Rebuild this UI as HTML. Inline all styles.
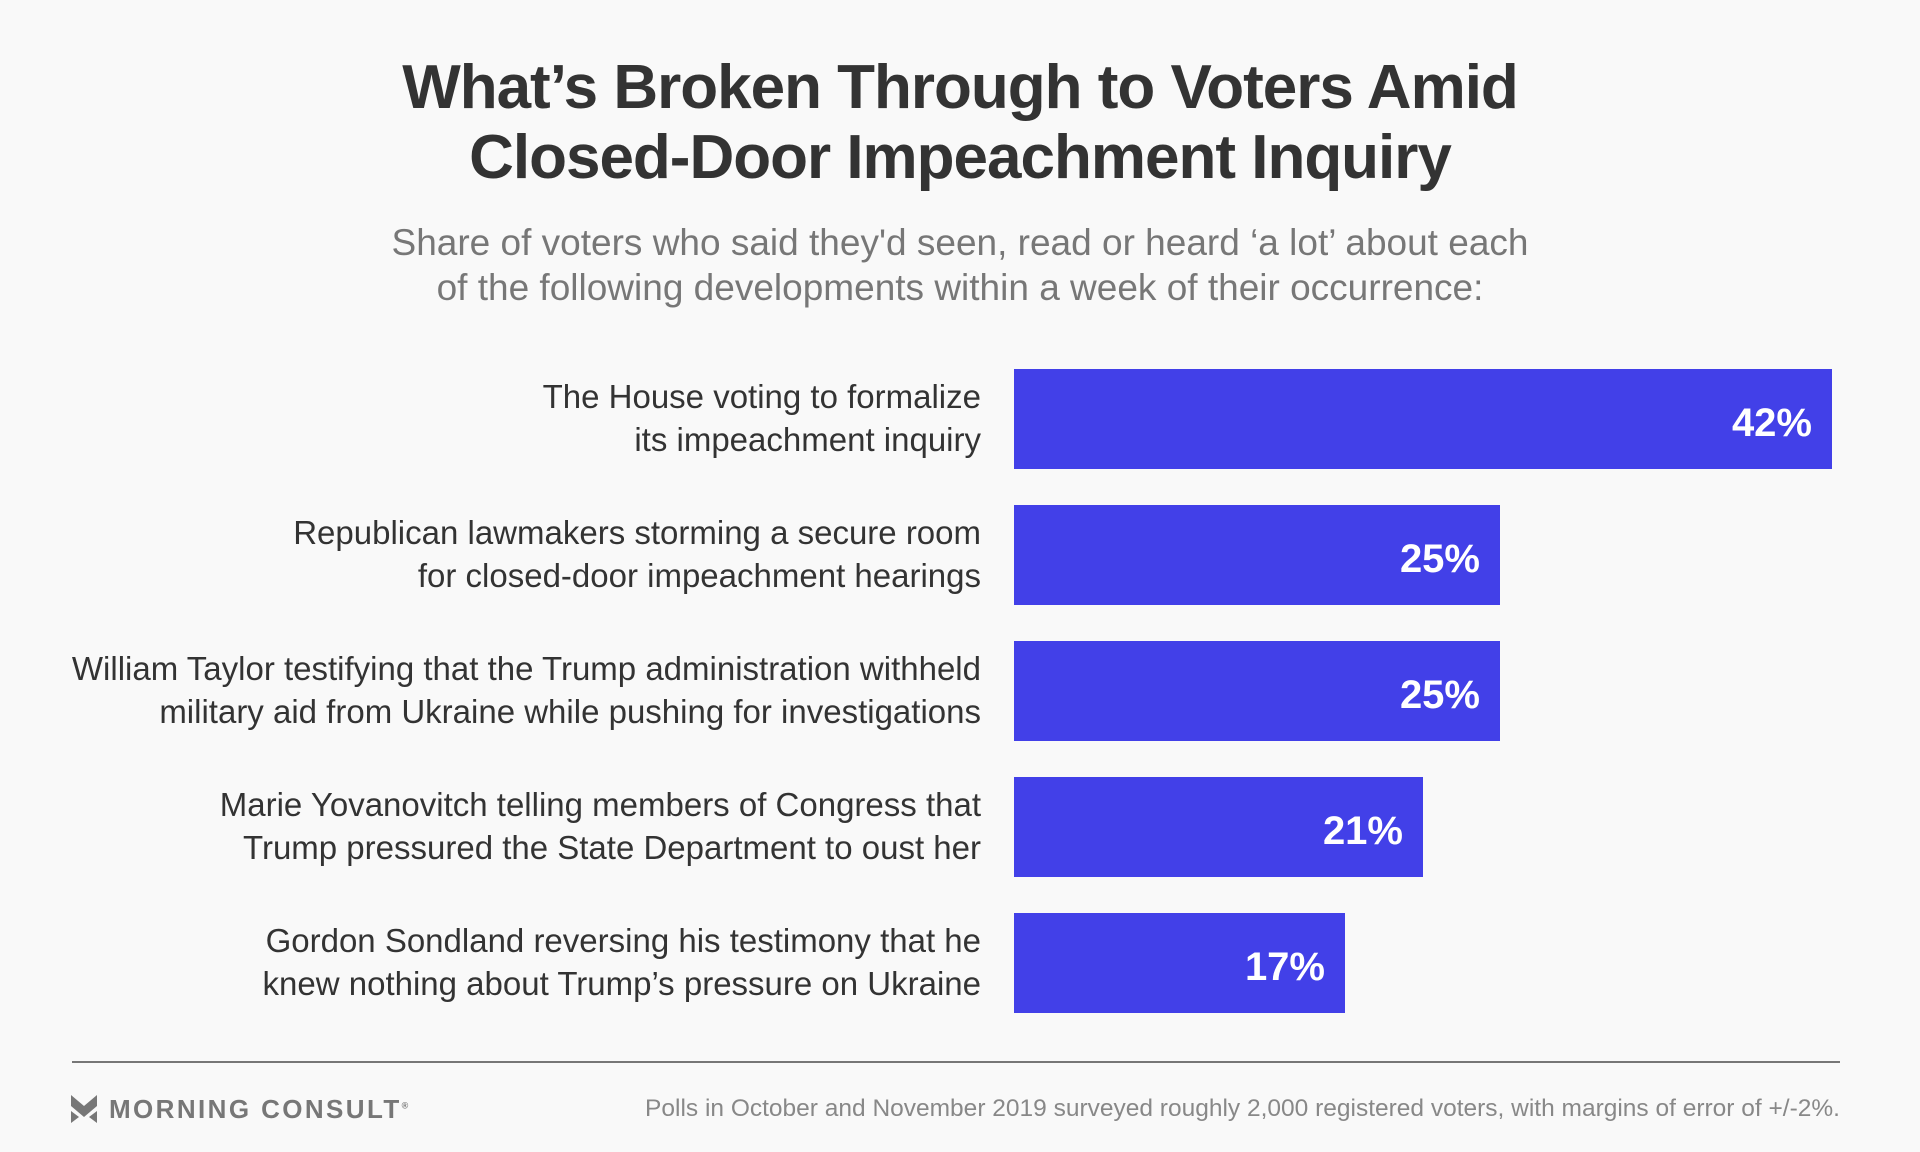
<!DOCTYPE html>
<html><head><meta charset="utf-8"><style>
body{margin:0;width:1920px;height:1152px;background:#f9f9f9;font-family:"Liberation Sans",sans-serif;position:relative;overflow:hidden}
.t{position:absolute;left:0;width:1920px;text-align:center;font-weight:bold;color:#333;font-size:62px;letter-spacing:-1px}
.s{position:absolute;left:0;width:1920px;text-align:center;color:#777;font-size:37px}
.bar{position:absolute;left:1014px;height:100px;background:#4240e8}
.v{position:absolute;right:20px;top:4px;line-height:100px;color:#fff;font-weight:bold;font-size:40px}
.l{position:absolute;right:939px;width:980px;text-align:right;color:#333;font-size:33px;line-height:43px}
</style></head><body>
<div class="t" style="top:52px">What’s Broken Through to Voters Amid</div>
<div class="t" style="top:122px">Closed-Door Impeachment Inquiry</div>
<div class="s" style="top:222px">Share of voters who said they'd seen, read or heard ‘a lot’ about each</div>
<div class="s" style="top:267px">of the following developments within a week of their occurrence:</div>

<div class="l" style="top:375px">The House voting to formalize<br>its impeachment inquiry</div>
<div class="bar" style="top:369px;width:818px"><span class="v">42%</span></div>
<div class="l" style="top:511px">Republican lawmakers storming a secure room<br>for closed-door impeachment hearings</div>
<div class="bar" style="top:505px;width:486px"><span class="v">25%</span></div>
<div class="l" style="top:647px">William Taylor testifying that the Trump administration withheld<br>military aid from Ukraine while pushing for investigations</div>
<div class="bar" style="top:641px;width:486px"><span class="v">25%</span></div>
<div class="l" style="top:783px">Marie Yovanovitch telling members of Congress that<br>Trump pressured the State Department to oust her</div>
<div class="bar" style="top:777px;width:409px"><span class="v">21%</span></div>
<div class="l" style="top:919px">Gordon Sondland reversing his testimony that he<br>knew nothing about Trump’s pressure on Ukraine</div>
<div class="bar" style="top:913px;width:331px"><span class="v">17%</span></div>

<div style="position:absolute;left:72px;top:1061px;width:1768px;height:2px;background:#777"></div>
<svg style="position:absolute;left:71px;top:1095px" width="26" height="28" viewBox="0 0 26 28"><path d="M0 0 L13 11 L26 0 L26 11 L13 22 L0 11Z M0 16 L8 22 L0 28Z M26 16 L18 22 L26 28Z" fill="#777"/></svg>
<div style="position:absolute;left:109px;top:1094px;font-weight:bold;font-size:26px;letter-spacing:2.4px;color:#777">MORNING CONSULT<sup style="font-size:9px">®</sup></div>
<div style="position:absolute;right:80px;top:1095px;font-size:24.5px;color:#888">Polls in October and November 2019 surveyed roughly 2,000 registered voters, with margins of error of +/-2%.</div>
</body></html>
